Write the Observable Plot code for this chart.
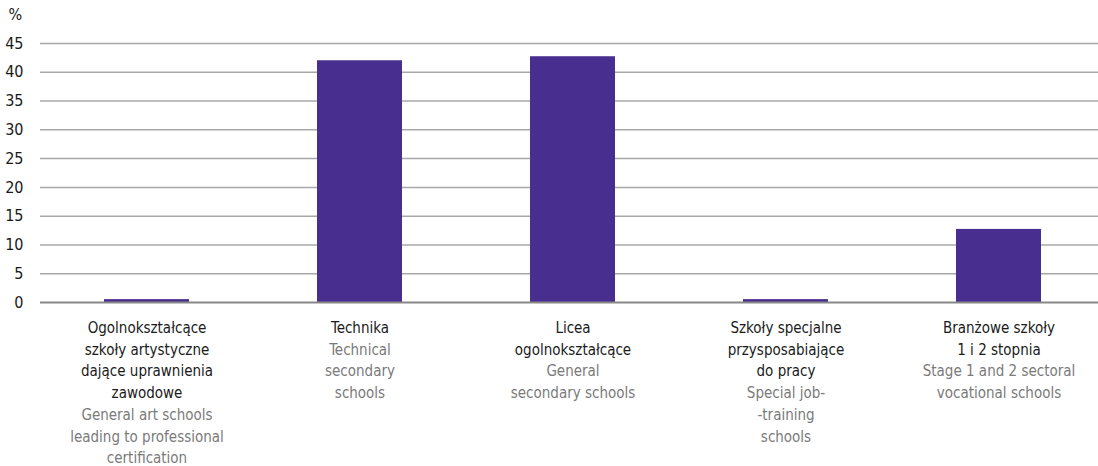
<!DOCTYPE html>
<html>
<head>
<meta charset="utf-8">
<script src="https://cdn.jsdelivr.net/npm/d3@7"></script>
<script src="https://cdn.jsdelivr.net/npm/@observablehq/plot@0.6"></script>
<style>
  html, body { margin: 0; padding: 0; background: #fff; }
  svg { font-family: "Liberation Sans Narrow", "DejaVu Sans Condensed", sans-serif; }
</style>
</head>
<body>
<div id="chart"></div>
<script>
const categories = ["art", "tech", "licea", "special", "branz"];
const labelsPl = [
  "Ogolnokształcące\nszkoły artystyczne\ndające uprawnienia\nzawodowe",
  "Technika",
  "Licea\nogolnokształcące",
  "Szkoły specjalne\nprzysposabiające\ndo pracy",
  "Branżowe szkoły\n1 i 2 stopnia"
];
const labelsEn = [
  "General art schools\nleading to professional\ncertification",
  "Technical\nsecondary\nschools",
  "General\nsecondary schools",
  "Special job-\n-training\nschools",
  "Stage 1 and 2 sectoral\nvocational schools"
];
const values = [0.5, 42.0, 42.7, 0.5, 12.7];
const yTicks = [0, 5, 10, 15, 20, 25, 30, 35, 40, 45];

const data = categories.map((c, i) => ({
  cat: c,
  value: values[i],
  pl: labelsPl[i],
  en: "\n".repeat(labelsPl[i].split("\n").length) + labelsEn[i]
}));

const font = "'Liberation Sans Narrow', 'DejaVu Sans Condensed', sans-serif";

const chart = Plot.plot({
  width: 1098,
  height: 466,
  marginLeft: 40,
  marginRight: 0,
  marginTop: 43,
  marginBottom: 164,
  style: { fontFamily: font, fontSize: "16px", color: "#1a1a1a", background: "#fff" },
  x: { domain: categories, range: [40, 1106], paddingInner: 0.6, paddingOuter: 0.3, axis: null },
  y: { domain: [0, 45], ticks: yTicks, tickSize: 0, tickPadding: 17, label: null },
  marks: [
    Plot.ruleY(yTicks.filter(d => d > 0), { stroke: "#a8a8a8", strokeWidth: 1.5 }),
    Plot.barY(data, { x: "cat", y: "value", fill: "#482E8E" }),
    Plot.ruleY([0], { stroke: "#888", strokeWidth: 2 }),
    Plot.text(data, { x: "cat", y: () => 0, text: "pl", dy: 15, lineAnchor: "top", lineHeight: 1.45, fill: "#1a1a1a", fontSize: 15 }),
    Plot.text(data, { x: "cat", y: () => 0, text: "en", dy: 15, lineAnchor: "top", lineHeight: 1.45, fill: "#7a7a7a", fontSize: 15 }),
    Plot.text(["%"], { frameAnchor: "top-left", dx: -32, dy: -35, lineAnchor: "top", textAnchor: "start", fontSize: 16, fill: "#1a1a1a" })
  ]
});
document.getElementById("chart").appendChild(chart);
</script>
</body>
</html>
